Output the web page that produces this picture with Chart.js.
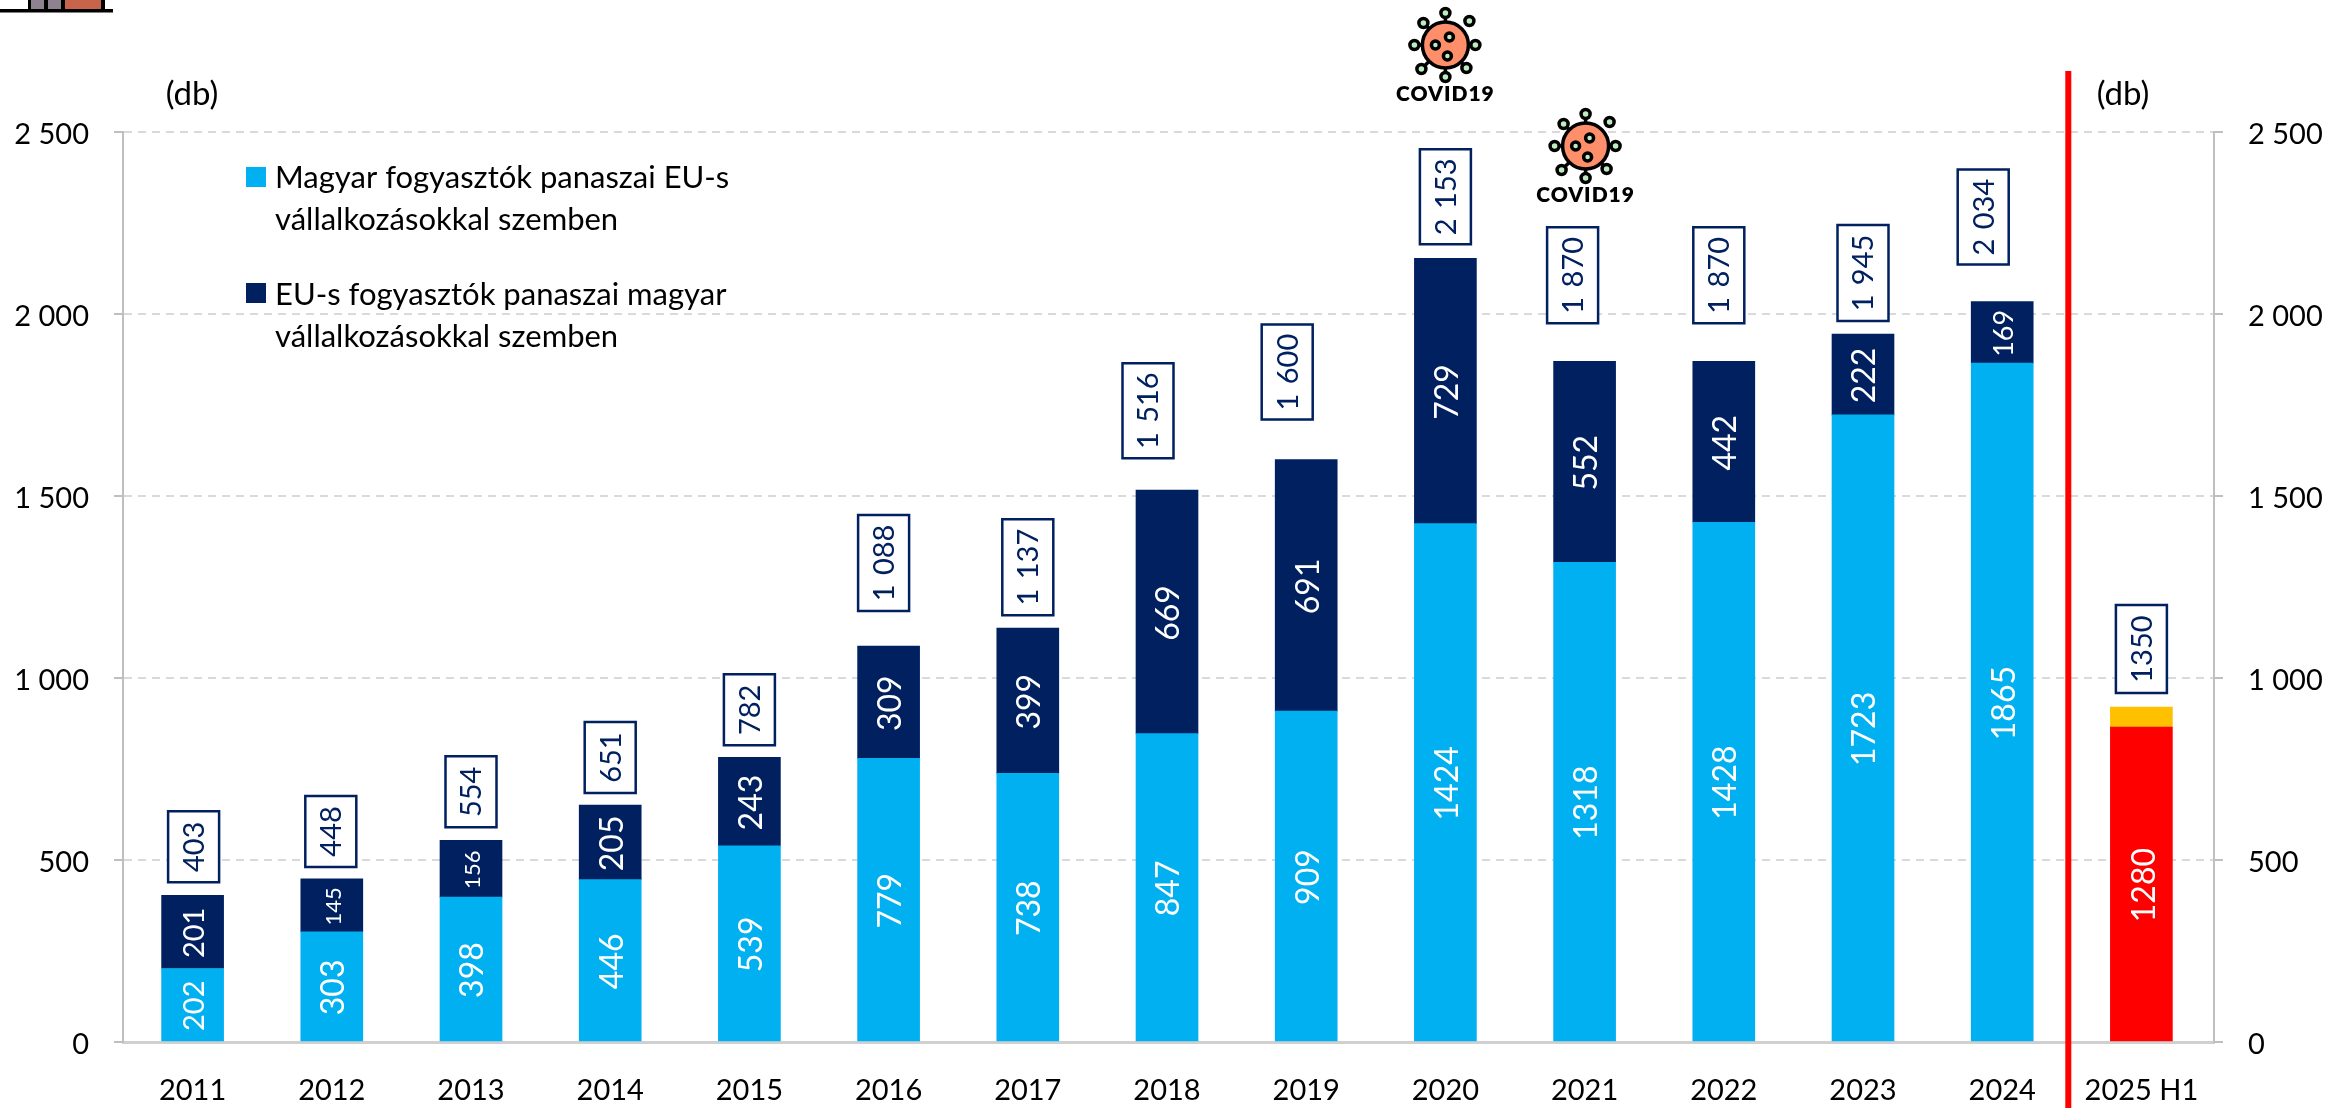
<!DOCTYPE html>
<html>
<head>
<meta charset="utf-8">
<title>Panaszok</title>
<script src="https://cdn.jsdelivr.net/npm/chart.js@4"></script>
<style>
html,body{margin:0;padding:0;background:#fff}
#wrap{position:absolute;left:0;top:0;width:2328px;height:1108px}
</style>
</head>
<body>
<div id="wrap"><canvas id="c" width="2328" height="1108"></canvas></div>
<script>
const categories = ['2011','2012','2013','2014','2015','2016','2017','2018','2019','2020','2021','2022','2023','2024','2025 H1'];
const huConsumers = [202,303,398,446,539,779,738,847,909,1424,1318,1428,1723,1865,null];
const euConsumers = [201,145,156,205,243,309,399,669,691,729,552,442,222,169,null];
const h1Main = [null,null,null,null,null,null,null,null,null,null,null,null,null,null,865];
const h1Rest = [null,null,null,null,null,null,null,null,null,null,null,null,null,null,55];
const h1MainLabel = '1280';
const totalLabels = ['403','448','554','651','782','1 088','1 137','1 516','1 600','2 153','1 870','1 870','1 945','2 034','1350'];
const huLegend = ['Magyar fogyasztók panaszai EU-s','vállalkozásokkal szemben'];
const euLegend = ['EU-s fogyasztók panaszai magyar','vállalkozásokkal szemben'];
const unitLabel = '(db)';
const covidLabel = 'COVID19';

// styling / placement, separate from the data
const FONT = 'Lato, "Open Sans", sans-serif';
const BLUE='#00B0F0', NAVY='#002060', RED='#FF0000', YELLOW='#FFC000';
const huFont = [29,32,32,32,32,32,32,32,32,32,32,32,32,32,32];
const euFont = [29,22,22,32,32,32,32,32,32,32,32,32,32,27,32];
const boxGap = [13,12,13,12,12,35,13,32,40,14,38,38,13,37,14];
const boxShift = [1,-1,0,0,0,-5,0,-19,-19,0,-12,-5,0,-19,0];
const boxLen = [71,71,71,71,71,96,96,95,95,95,96,96,96,95,88];
const spaced = v => String(v).replace(/\B(?=(\d{3})+$)/g,' ');

function vText(ctx,text,x,y,size,color){
  ctx.save();ctx.translate(x,y);ctx.rotate(-Math.PI/2);
  ctx.font=size+'px '+FONT;ctx.fillStyle=color;ctx.textAlign='center';ctx.textBaseline='middle';
  ctx.wordSpacing='2px';
  ctx.fillText(text,0,0);ctx.restore();
}
function covid(ctx,cx,cy){
  const spikes=[[0,-32,1],[-22,-22,1],[24,-24,0],[-31,0,1],[30,0,1],[-24,24,1],[21,23,1],[0,32,1]];
  const dots=[[-10,0],[4,-8],[2,11]];
  ctx.save();ctx.lineWidth=3.5;ctx.strokeStyle='#000';
  spikes.forEach(s=>{ if(s[2]){ctx.beginPath();ctx.moveTo(cx,cy);ctx.lineTo(cx+s[0],cy+s[1]);ctx.stroke();} });
  ctx.beginPath();ctx.arc(cx,cy,23,0,Math.PI*2);ctx.fillStyle='#FF8F6B';ctx.fill();ctx.stroke();
  ctx.fillStyle='#BDEBC2';
  spikes.forEach(s=>{ctx.beginPath();ctx.arc(cx+s[0],cy+s[1],4.5,0,Math.PI*2);ctx.fill();ctx.stroke();});
  dots.forEach(d=>{ctx.beginPath();ctx.arc(cx+d[0],cy+d[1],4,0,Math.PI*2);ctx.fill();ctx.stroke();});
  ctx.font='800 21px '+FONT;ctx.fillStyle='#000';ctx.textAlign='center';ctx.textBaseline='middle';
  ctx.letterSpacing='1px';
  ctx.fillText(covidLabel,cx,cy+49);
  ctx.restore();
}
const overlay={
  id:'overlay',
  afterLayout(chart){
    // the reference's categories end slightly short of the right axis
    const x=chart.scales.x, r=x.right;
    x.right=r-3; x.configure(); x.right=r;
  },
  afterDatasetsDraw(chart){
    const ctx=chart.ctx, xs=chart.scales.x;
    const mHu=chart.getDatasetMeta(0).data, mEu=chart.getDatasetMeta(1).data, mRed=chart.getDatasetMeta(2).data, mYel=chart.getDatasetMeta(3).data;
    // values inside the bars
    categories.forEach((c,i)=>{
      if(huConsumers[i]!=null){
        const a=mHu[i], b=mEu[i];
        vText(ctx,String(huConsumers[i]),a.x+2,(a.y+a.base)/2+1,huFont[i],'#fff');
        vText(ctx,String(euConsumers[i]),b.x+2,(b.y+b.base)/2+1,euFont[i],'#fff');
      } else {
        const a=mRed[i];
        vText(ctx,h1MainLabel,a.x+3,(a.y+a.base)/2+1,huFont[i],'#fff');
      }
    });
    // boxed totals
    categories.forEach((c,i)=>{
      const top=huConsumers[i]!=null?mEu[i].y:mYel[i].y, x=xs.getPixelForValue(i)+boxShift[i];
      const bottom=top-boxGap[i], len=boxLen[i], w=51;
      ctx.save();ctx.fillStyle='#fff';ctx.strokeStyle=NAVY;ctx.lineWidth=2.5;
      ctx.beginPath();ctx.rect(x-w/2,bottom-len,w,len);ctx.fill();ctx.stroke();ctx.restore();
      vText(ctx,totalLabels[i],x+1,bottom-len/2,29,NAVY);
    });
    // divider between 2024 and 2025 H1
    const dx=(xs.getPixelForValue(13)+xs.getPixelForValue(14))/2-3.5;
    ctx.save();ctx.strokeStyle=RED;ctx.lineWidth=6;ctx.beginPath();ctx.moveTo(dx,71);ctx.lineTo(dx,1108);ctx.stroke();ctx.restore();
    // legend
    ctx.save();ctx.font='31px '+FONT;ctx.textAlign='left';ctx.textBaseline='middle';
    ctx.fillStyle=BLUE;ctx.fillRect(246,167,20,20);
    ctx.fillStyle=NAVY;ctx.fillRect(246,283,20,20);
    ctx.fillStyle='#000';
    ctx.fillText(huLegend[0],275,178);ctx.fillText(huLegend[1],275,220);
    ctx.fillText(euLegend[0],275,295);ctx.fillText(euLegend[1],275,337);
    // unit labels
    ctx.font='33px '+FONT;ctx.textAlign='center';
    ctx.fillText(unitLabel,192,94);
    ctx.fillText(unitLabel,2123,94);
    ctx.restore();
    // pictograms
    covid(ctx,xs.getPixelForValue(9),45);
    covid(ctx,xs.getPixelForValue(10)+1,146);
    // cropped pictogram at the top-left corner
    ctx.save();
    ctx.fillStyle='#8F8290';ctx.fillRect(31,0,13,9);ctx.fillRect(48,0,13,9);
    ctx.fillStyle='#C8644A';ctx.fillRect(65,0,36,9);
    ctx.fillStyle='#000';ctx.fillRect(0,9,113,3.5);
    ctx.fillRect(28,0,3,9);ctx.fillRect(44,0,4,9);ctx.fillRect(61,0,4,9);ctx.fillRect(101,0,4,9);
    ctx.restore();
  }
};
const nudgeLabels=s=>{
  if(s.$nudged)return;
  const draw=s.drawLabels;
  s.drawLabels=function(a){const c=this.ctx;c.save();c.translate(0,2.5);draw.call(this,a);c.restore();};
  s.$nudged=true;
};
const yAxis=(pos,w,onArea,pad)=>({
  position:pos,min:0,max:2500,
  afterFit(s){s.width=w;nudgeLabels(s);},
  border:{color:'#BFBFBF',width:2,dash:[8,6]},
  grid:{color:'#D9D9D9',lineWidth:2,tickLength:9,tickColor:'#BFBFBF',tickWidth:2,tickBorderDash:[],drawOnChartArea:onArea},
  ticks:{stepSize:500,padding:pad,color:'#000',font:{family:FONT,size:29},callback:v=>spaced(v)}
});
new Chart(document.getElementById('c'),{
  type:'bar',
  data:{labels:categories,datasets:[
    {label:huLegend.join(' '),data:huConsumers,backgroundColor:BLUE,stack:'s'},
    {label:euLegend.join(' '),data:euConsumers,backgroundColor:NAVY,stack:'s'},
    {label:'2025 H1',data:h1Main,backgroundColor:RED,stack:'s'},
    {label:'2025 H1 ',data:h1Rest,backgroundColor:YELLOW,stack:'s'}
  ].map(d=>Object.assign(d,{barThickness:62,yAxisID:'y'}))},
  options:{
    responsive:false,animation:false,
    layout:{padding:{top:132,left:0,right:0,bottom:0}},
    plugins:{legend:{display:false},tooltip:{enabled:false}},
    scales:{
      x:{stacked:true,z:1,afterFit(s){s.height=66;},
        border:{color:'#D0D0D0',width:3},
        grid:{display:false,drawTicks:false},
        ticks:{padding:31,color:'#000',autoSkip:false,maxRotation:0,font:{family:FONT,size:29}}},
      y:Object.assign(yAxis('left',123,true,25),{stacked:true}),
      yr:yAxis('right',114,false,25)
    }
  },
  plugins:[overlay]
});
</script>
</body>
</html>
